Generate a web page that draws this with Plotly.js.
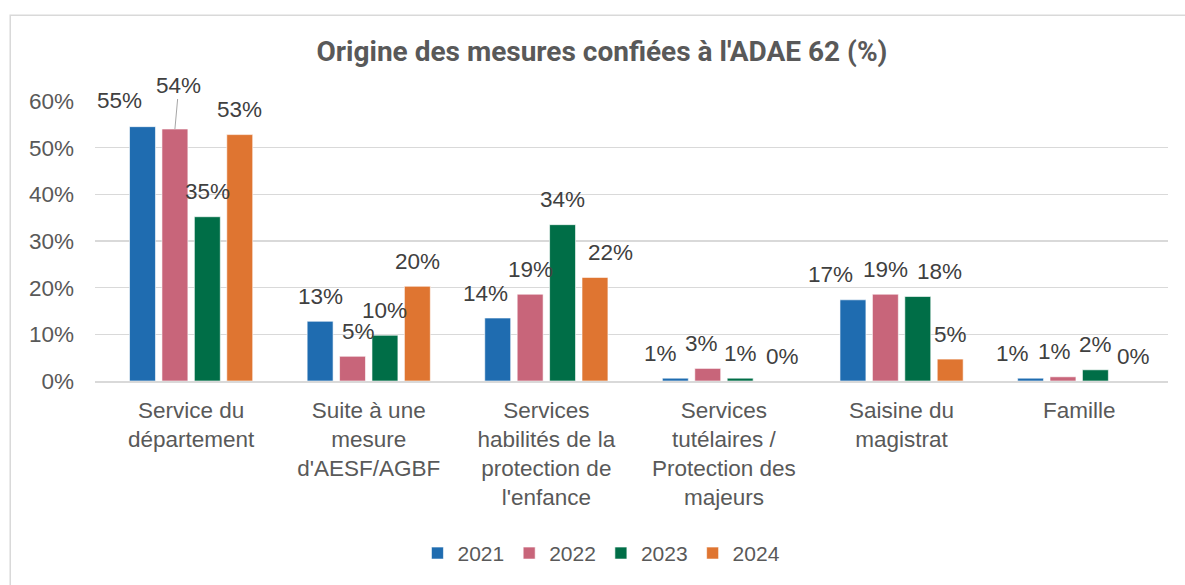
<!DOCTYPE html>
<html>
<head>
<meta charset="utf-8">
<script src="https://cdn.plot.ly/plotly-3.0.1.min.js"></script>
<style>html,body{margin:0;padding:0;background:#fff;}#chart{width:1185px;height:585px;}</style>
</head>
<body>
<div id="chart"></div>
<script>
const categories = [
  "Service du<br>département",
  "Suite à une<br>mesure<br>d'AESF/AGBF",
  "Services<br>habilités de la<br>protection de<br>l'enfance",
  "Services<br>tutélaires /<br>Protection des<br>majeurs",
  "Saisine du<br>magistrat",
  "Famille"
];
const years = ["2021", "2022", "2023", "2024"];
const v2021 = [54.5, 12.8, 13.5, 0.6, 17.4, 0.6];
const v2022 = [54.0, 5.3, 18.6, 2.7, 18.6, 0.9];
const v2023 = [35.2, 9.8, 33.5, 0.6, 18.1, 2.4];
const v2024 = [52.8, 20.3, 22.2, 0.0, 4.7, 0.0];
const yTickVals = [0, 10, 20, 30, 40, 50, 60];
const yTickText = ["0%", "10%", "20%", "30%", "40%", "50%", "60%"];
const colors = ["#1F6CB0", "#C8657A", "#006E47", "#DF7531"];

const series = [v2021, v2022, v2023, v2024];
const font = "Liberation Sans, Arial, sans-serif";
const grey = "#595959";
const bargap = 0.27;

// horizontal nudges of data labels (px), as Excel spreads crowded labels
const labelNudge = [
  [-23, 0, -12, -15, -22, -18],
  [0, 6, 0, -6, 0, -8],
  [0, 0, 0, 0, 22, 0],
  [0, 0, 16, 10, 0, 6]
];

const traces = series.map((vals, i) => ({
  type: "bar",
  name: years[i],
  x: categories,
  y: vals,
  marker: {color: colors[i], line: {color: "rgba(255,255,255,0.6)", width: 1}},
  hoverinfo: "skip"
}));

const slot = (1 - bargap) / series.length;
const annotations = [];
series.forEach((vals, i) => {
  const off = -(1 - bargap) / 2 + slot * (i + 0.5);
  vals.forEach((v, j) => {
    const a = {
      x: j + off, y: v, xref: "x", yref: "y",
      text: Math.round(v) + "%",
      showarrow: false, yshift: 25, xshift: labelNudge[i][j],
      font: {family: font, size: 22.5, color: "#404040"}
    };
    if (j === 0 && i === 0) { a.yshift = 26; }
    if (j === 0 && i === 1) {
      a.showarrow = true; a.ax = 4; a.ay = -44; a.yshift = 0;
      a.arrowhead = 0; a.arrowwidth = 1; a.arrowcolor = "#A6A6A6";
      a.standoff = 0; a.startstandoff = 0;
    }
    annotations.push(a);
  });
});

const layout = {
  width: 1185, height: 585,
  margin: {l: 95, r: 17, t: 101, b: 203},
  paper_bgcolor: "#fff", plot_bgcolor: "#fff",
  title: {
    text: "<b>Origine des mesures confiées à l'ADAE 62 (%)</b>",
    font: {family: "Roboto, sans-serif", size: 28, color: grey},
    x: 0.508, xanchor: "center", y: 0.912, yanchor: "middle"
  },
  barmode: "group",
  bargap: bargap,
  bargroupgap: 0.2,
  showlegend: true,
  legend: {
    orientation: "h", x: 0.472, xanchor: "center", y: -0.61, yanchor: "middle",
    font: {family: font, size: 21, color: grey},
    itemwidth: 30, tracegroupgap: 0
  },
  xaxis: {
    type: "category",
    tickfont: {family: font, size: 22.5, color: grey},
    showline: true, linecolor: "#D9D9D9", linewidth: 1.5,
    ticks: "", showgrid: false,
    ticklabelstandoff: 8
  },
  yaxis: {
    range: [0, 60],
    tickvals: yTickVals, ticktext: yTickText,
    tickfont: {family: font, size: 22.5, color: grey},
    showgrid: true, gridcolor: "#D9D9D9", gridwidth: 1.5,
    zeroline: false, showline: false, ticks: "",
    ticklabelstandoff: 20
  },
  annotations: annotations,
  shapes: [{
    type: "rect", xref: "paper", yref: "paper",
    x0: -0.079, x1: 1.1, y0: -1.0, y1: 1.306,
    line: {color: "#D9D9D9", width: 1.5}, fillcolor: "rgba(0,0,0,0)", layer: "below"
  }]
};

Plotly.newPlot("chart", traces, layout, {displayModeBar: false, staticPlot: true});
</script>
</body>
</html>
